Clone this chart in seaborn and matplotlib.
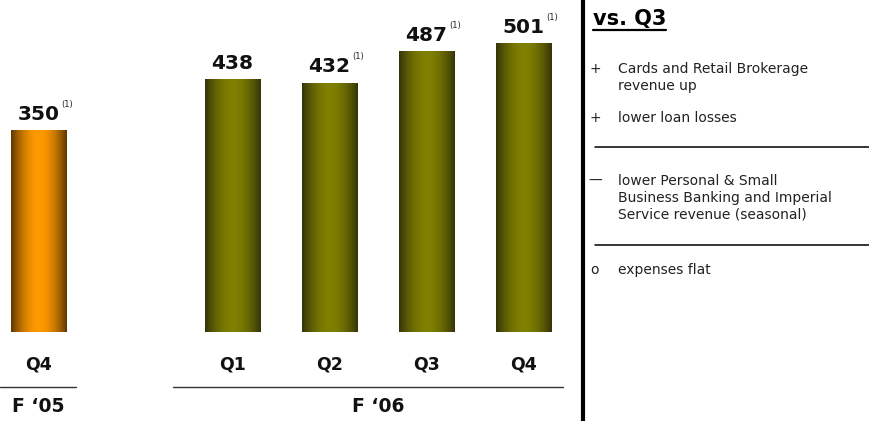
import numpy as np
import pandas as pd
import matplotlib
matplotlib.use("Agg")
import matplotlib.pyplot as plt
import matplotlib.transforms as mtransforms
from matplotlib.lines import Line2D
import seaborn as sns

# ---- data -------------------------------------------------------------
quarters = ["Q4", "Q1", "Q2", "Q3", "Q4"]
fiscal_years = ["F \u201805", "F \u201806", "F \u201806", "F \u201806", "F \u201806"]
revenue = [350, 438, 432, 487, 501]
footnoted = [True, False, True, True, True]

heading = "vs. Q3"
drivers = [
    ("+", ["Cards and Retail Brokerage", "revenue up"]),
    ("+", ["lower loan losses"]),
    ("\u2014", ["lower Personal & Small", "Business Banking and Imperial",
                "Service revenue (seasonal)"]),
    ("o", ["expenses flat"]),
]

# ---- styling ----------------------------------------------------------
sns.set_theme(style="white")
plt.rcParams["font.family"] = ["DejaVu Sans"]

W, H = 870, 421
year_colors = {
    "F \u201805": ((0.36, 0.21, 0.00), (1.00, 0.60, 0.00)),   # edge, centre
    "F \u201806": ((0.20, 0.20, 0.04), (0.50, 0.50, 0.00)),
}

# one empty slot between fiscal years
slots = []
s = 0
for i, fy in enumerate(fiscal_years):
    if i > 0:
        s += 2 if fy != fiscal_years[i - 1] else 1
    slots.append(s)

df = pd.DataFrame({"slot": slots, "revenue": revenue, "year": fiscal_years})

fig = plt.figure(figsize=(W / 100, H / 100), dpi=100)
ax = fig.add_axes([0, 0, 1, 1])

# pixel transform: (x from left, y from top) in figure pixels
px = mtransforms.Affine2D().scale(1 / W, -1 / H).translate(0, 1) + fig.transFigure

slot_px, slot_w = 38.5, 97.0
base_px, unit_px = 332.0, 0.577

sns.barplot(data=df, x="slot", y="revenue", hue="year", native_scale=True,
            dodge=False, width=0.57, legend=False,
            palette={k: v[1] for k, v in year_colors.items()}, ax=ax)

ax.set_xlim(-slot_px / slot_w, (W - slot_px) / slot_w)
ax.set_ylim(-(H - base_px) / unit_px, base_px / unit_px)
ax.set_axis_off()

# cylinder-like horizontal shading on every bar
u = np.linspace(0, 1, 200)
shade = np.sin(np.pi * u) ** 0.9
for patch in list(ax.patches):
    x0, y0 = patch.get_x(), patch.get_y()
    w, h = patch.get_width(), patch.get_height()
    if h == 0:
        continue
    idx = int(np.argmin([abs(x0 + w / 2 - sl) for sl in slots]))
    edge, centre = (np.array(c) for c in year_colors[fiscal_years[idx]])
    grad = edge[None, :] + (centre - edge)[None, :] * shade[:, None]
    img = ax.imshow(grad[None, :, :], extent=[x0, x0 + w, y0, y0 + h],
                    aspect="auto", origin="lower", zorder=2, interpolation="bilinear")
    img.set_clip_path(patch)
    patch.set_facecolor("none")
    patch.set_edgecolor("none")

# value labels with footnote markers
for sl, val, note in zip(slots, revenue, footnoted):
    lab = ax.annotate(f"{val}", xy=(sl, val), xytext=(0, 7.5),
                      textcoords="offset points", ha="center", va="baseline",
                      fontsize=14.5, fontweight="bold", color="#111111")
    if note:
        ax.annotate("(1)", xy=(1, 0.78), xycoords=lab, xytext=(1.0, 0),
                    textcoords="offset points", ha="left", va="bottom",
                    fontsize=6, color="#222222")

# quarter labels
for sl, q in zip(slots, quarters):
    xp = slot_px + slot_w * sl
    fig.text(xp, 365, q, transform=px, ha="center", va="center",
             fontsize=12.5, fontweight="bold", color="#111111")

# fiscal-year group rules and labels
groups = {}
for sl, fy in zip(slots, fiscal_years):
    groups.setdefault(fy, []).append(sl)
rule_ext = {"F \u201805": (0, 76), "F \u201806": (173, 563)}
for fy, sls in groups.items():
    a, b = rule_ext[fy]
    fig.add_artist(Line2D([a, b], [387, 387], transform=px, color="#333333", lw=1.0))
    xc = slot_px + slot_w * (min(sls) + max(sls)) / 2
    fig.text(xc, 406, fy, transform=px, ha="center", va="center",
             fontsize=13.5, fontweight="bold", color="#111111")

# vertical divider
fig.add_artist(Line2D([583.5, 583.5], [0, H], transform=px, color="#000000", lw=3.0))

# right-hand commentary
ht = fig.text(593, 25, heading, transform=px, ha="left", va="baseline",
              fontsize=15, fontweight="bold", color="#000000")
fig.canvas.draw()
bb = ht.get_window_extent(fig.canvas.get_renderer())
x_start = bb.x0 / fig.dpi * 100
x_end = bb.x1 / fig.dpi * 100
fig.add_artist(Line2D([x_start, x_end], [30, 30], transform=px, color="#000000", lw=1.6))

line_h = 17.0
block_y = [73, 122, 185, 274]
for (mark, lines), y0 in zip(drivers, block_y):
    fig.text(595, y0, mark, transform=px, ha="center", va="baseline",
             fontsize=10, color="#222222")
    for k, txt in enumerate(lines):
        fig.text(618, y0 + k * line_h, txt, transform=px, ha="left", va="baseline",
                 fontsize=10, color="#222222")

for y in (147, 245):
    fig.add_artist(Line2D([595, W], [y, y], transform=px, color="#000000", lw=1.1))

fig.savefig("out.png", dpi=100)
